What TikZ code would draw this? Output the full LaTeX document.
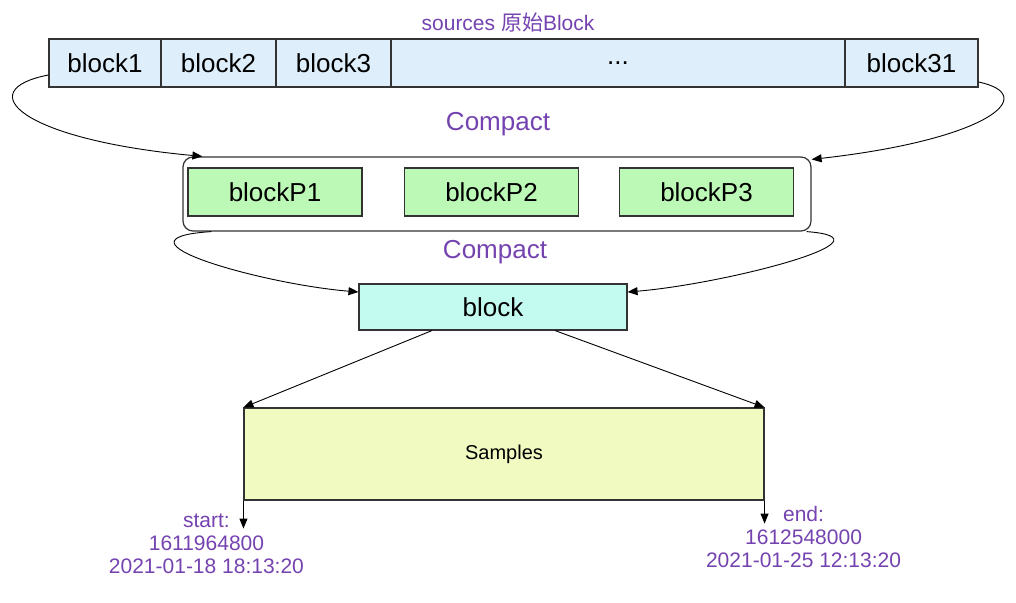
\documentclass[tikz,border=0pt]{standalone}
\usepackage{fontspec}
\setmainfont{Liberation Sans}
\newfontfamily\cjk{Noto Sans CJK SC}
\usepackage{xcolor}
\usepackage{tikz}
\usetikzlibrary{arrows.meta}
\definecolor{edge}{HTML}{333333}
\definecolor{note}{HTML}{7443B0}
\definecolor{srcblue}{HTML}{DEEFFB}
\definecolor{pgreen}{HTML}{BDF9B6}
\definecolor{outcyan}{HTML}{C4FBF1}
\definecolor{smpyellow}{HTML}{F1FAC0}

\begin{document}
\begin{tikzpicture}[x=1pt, y=-1pt, >={Stealth[length=10pt, width=8pt, inset=0pt]},
                    line width=0.9pt]
\tikzstyle{cell}=[draw=edge, line width=1.1pt, fill=srcblue, inner sep=0pt,
                    minimum height=48pt, font=\fontsize{26}{30}\selectfont]
\tikzstyle{part}=[draw=edge, line width=1.1pt, fill=pgreen, inner sep=0pt,
                    minimum width=174pt, minimum height=48pt, font=\fontsize{26}{30}\selectfont]
\tikzstyle{label}=[text=note, align=center, font=\fontsize{21}{23}\selectfont]
  \useasboundingbox (0,0) rectangle (1016,602);
  % source blocks
  \node[cell, minimum width=112pt] (b1) at (105,63) {block1};
  \node[cell, minimum width=115pt] (b2) [right of=b1, node distance=113.5pt] {block2};
  \node[cell, minimum width=115pt] (b3) [right of=b2, node distance=115pt] {block3};
  \node[cell, minimum width=454pt] (bdots) [right of=b3, node distance=284.5pt] {...};
  \node[cell, minimum width=133pt] (b31) [right of=bdots, node distance=293.5pt] {block31};
  \node[label] (src) at (508,23) {sources {\cjk 原始}Block};
  % first compaction
  \node[draw=edge, line width=1.2pt, rounded corners=10pt, fill=white,
        minimum width=628pt, minimum height=74pt] (pool) at (497,194) {};
  \node[part] (p1) at (275,192) {blockP1};
  \node[part] (p2) [right of=p1, node distance=216.5pt] {blockP2};
  \node[part] (p3) [right of=p2, node distance=215pt] {blockP3};
  \node[label, font=\fontsize{26}{30}\selectfont] (c1) at (498,124) {Compact};
  % second compaction
  \node[draw=edge, line width=1.1pt, fill=outcyan, minimum width=268pt, minimum height=46pt,
        inner sep=0pt, font=\fontsize{26}{30}\selectfont]
        (blk) [below of=pool, node distance=113pt, xshift=-4pt] {block};
  \node[label, font=\fontsize{26}{30}\selectfont] (c2) at (495,252) {Compact};
  \node[draw=edge, line width=1.1pt, fill=smpyellow, minimum width=520pt, minimum height=92pt,
        inner sep=0pt, font=\fontsize{20}{22}\selectfont]
        (smp) [below of=blk, node distance=147pt, xshift=11pt] {\raisebox{-3pt}{Samples}};
  \coordinate (t0) at ([yshift=-28pt]smp.south west);
  \coordinate (t1) at ([yshift=-23pt]smp.south east);
  \node[label] (startlbl) at ([xshift=-37pt, yshift=-15pt]t0) {start:\\1611964800\\2021-01-18 18:13:20};
  \node[label] (endlbl) at ([xshift=39pt, yshift=-13pt]t1) {end:\\1612548000\\2021-01-25 12:13:20};
  % connectors
  \draw[->] ([yshift=-12pt]b1.west) .. controls +(-78,15) and +(-183,-17) .. ([xshift=20pt]pool.north west);
  \draw[->] ([yshift=-19pt]b31.east) .. controls +(62,13) and +(178,-20) .. ([yshift=-3pt]pool.north east);
  \draw[->] ([xshift=29pt]pool.south west) .. controls +(-110,7) and +(-97,-8) .. ([yshift=15pt]blk.west);
  \draw[->] ([xshift=-5pt]pool.south east) .. controls +(95,7) and +(97,-8) .. ([yshift=15pt]blk.east);
  \draw[->] ([xshift=-61pt]blk.south) -- (smp.north west);
  \draw[->] ([xshift=62pt]blk.south) -- (smp.north east);
  \draw[->] (smp.south west) -- (t0);
  \draw[->] (smp.south east) -- (t1);
\end{tikzpicture}
\end{document}
